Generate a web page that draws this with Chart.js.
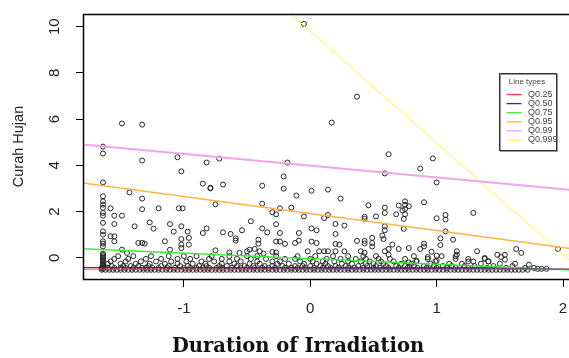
<!DOCTYPE html>
<html>
<head>
<meta charset="utf-8">
<script src="https://cdn.jsdelivr.net/npm/chart.js@4.4.0/dist/chart.umd.min.js"></script>
<style>
    html, body { margin: 0; padding: 0; background: #fff; overflow: hidden; }
    #wrap { width: 575px; height: 358px; }
</style>
</head>
<body>
<div id="wrap"><canvas id="chart" width="575" height="358"></canvas></div>
<script>
// axis ticks
const xTicks = [-1, 0, 1, 2];
const yTicks = [0, 2, 4, 6, 8, 10];
const xTitle = 'Duration of Irradiation';
const yTitle = 'Curah Hujan';

// quantile regression lines (value at left and right end of the x range)
const quantiles = ['Q0.25', 'Q0.50', 'Q0.75', 'Q0.95', 'Q0.99', 'Q0.999'];
const lineColors = ['#ff3b3b', '#2a2a9c', '#33f033', '#ffb347', '#f0a4f0', '#ffff40'];
const lineEndsX = [-1.8, 2.07];
const lineLeftY = [-0.49, -0.42, 0.39, 3.24, 4.90, 18.5];
const lineRightY = [-0.50, -0.49, -0.54, 0.39, 2.93, -0.21];

const upperPts = [
    [-0.05, 10.12], [0.37, 6.97], [0.17, 5.85], [-1.49, 5.81], [-1.33, 5.76],
    [-1.64, 4.81], [-1.64, 4.51], [-1.33, 4.21], [-1.05, 4.35], [-1.02, 3.74],
    [-0.82, 4.12], [-0.72, 4.29], [-0.18, 4.12], [-0.21, 3.52], [0.62, 4.48],
    [0.59, 3.65], [0.87, 3.86], [0.97, 4.30], [1.00, 3.26], [-1.64, 3.26],
    [-0.85, 3.21], [-0.79, 3.03], [-0.79, 3.00], [-0.69, 3.17]
];
const midPts = [
    [-1.43, 2.83], [-1.33, 2.56], [-1.33, 2.10],
    [-1.64, 2.66], [-1.64, 2.44], [-1.64, 2.30], [-1.64, 2.16], [-1.64, 1.94], [-1.64, 1.82],
    [-1.64, 1.51], [-1.64, 1.14], [-1.64, 1.00], [-1.64, 0.71], [-1.64, 0.61], [-1.64, 0.49],
    [-1.58, 2.14], [-1.55, 1.82], [-1.49, 1.82], [-1.55, 1.46], [-1.39, 1.36], [-1.27, 1.53],
    [-1.24, 1.26], [-1.20, 2.14], [-1.04, 2.14], [-1.01, 2.14], [-1.11, 1.46], [-1.08, 1.13],
    [-0.97, 1.13], [-1.02, 1.36], [-0.75, 2.31], [-0.85, 1.07], [-0.82, 1.27], [-0.69, 1.10],
    [-0.63, 1.03], [-0.59, 0.84], [-0.59, 0.74], [-0.54, 1.19], [-1.58, 0.93], [-1.55, 0.93],
    [-1.55, 0.71], [-1.49, 0.35], [-1.45, 0.21], [-1.36, 0.64], [-1.33, 0.64], [-1.31, 0.61],
    [-1.15, 0.71], [-1.02, 0.81], [-1.02, 0.57], [-1.02, 0.42], [-0.96, 0.86], [-0.96, 0.57],
    [-1.11, 0.35], [-0.75, 0.32], [-0.64, 0.23], [-0.56, 0.21], [-0.50, 0.28],
    [-0.38, 3.12], [-0.21, 2.99], [-0.11, 2.69], [0.01, 2.90], [0.14, 2.95], [0.24, 2.56],
    [-0.38, 2.34], [-0.24, 2.14], [-0.15, 2.17], [-0.30, 1.97], [-0.27, 1.88], [-0.05, 1.79],
    [-0.47, 1.58], [-0.27, 1.45], [-0.38, 1.27], [-0.34, 1.10], [-0.24, 1.07], [-0.09, 1.07],
    [0.01, 1.27], [0.05, 1.19], [0.11, 1.72], [0.14, 1.85], [0.20, 1.46], [0.27, 1.39],
    [0.20, 1.03], [0.46, 2.27], [0.43, 1.77], [0.43, 1.68], [0.52, 1.79], [0.59, 2.17],
    [0.59, 1.94], [0.68, 1.88], [0.70, 2.26], [0.73, 2.05], [0.75, 2.29], [0.75, 1.88],
    [0.74, 1.68], [0.74, 1.25], [0.59, 1.36], [0.59, 1.19], [-0.41, 0.61], [-0.41, 0.78],
    [-0.24, 0.70], [-0.27, 0.70], [-0.20, 0.60], [-0.12, 0.64], [-0.09, 0.74], [0.01, 0.70],
    [0.05, 0.64], [0.20, 0.60], [0.23, 0.57], [0.37, 0.73], [0.43, 0.73], [0.43, 0.62],
    [0.49, 0.86], [0.49, 0.64], [0.49, 0.49], [0.57, 0.96], [0.58, 0.81], [0.65, 0.57],
    [0.70, 0.38], [0.78, 0.42], [-0.48, 0.35], [-0.44, 0.38], [-0.40, 0.28], [-0.37, 0.18],
    [-0.30, 0.25], [-0.27, 0.23], [-0.02, 0.28], [0.07, 0.28], [0.11, 0.28], [0.14, 0.28],
    [0.20, 0.28], [0.27, 0.28], [0.40, 0.28], [0.43, 0.21], [0.59, 0.28], [0.62, 0.38],
    [0.62, 0.13], [0.90, 2.40], [0.75, 2.44], [0.78, 2.23], [0.75, 2.11], [1.00, 1.71],
    [1.07, 1.85], [1.07, 1.65], [1.29, 1.94], [1.07, 1.14], [1.03, 0.84], [1.13, 0.78],
    [1.03, 0.55], [0.90, 0.61], [0.90, 0.49], [0.87, 0.38], [0.96, 0.26], [1.00, 0.09],
    [0.93, 0.03], [1.00, -0.13], [1.16, 0.28], [1.16, 0.13], [1.15, 0.06], [1.32, 0.28],
    [1.25, -0.05], [1.29, -0.16], [1.38, -0.01], [1.41, -0.16], [1.48, 0.13], [1.54, 0.13],
    [1.54, -0.08], [1.51, 0.03], [1.63, 0.38], [1.67, 0.21], [1.96, 0.38], [0.84, -0.13],
    [0.78, -0.20], [1.73, -0.30], [1.77, -0.44], [1.80, -0.48], [1.83, -0.48], [1.87, -0.48]
];
// dense column on the far left
const leftColX = -1.64;
const leftColY = [0.18, 0.12, 0.06, 0.0, -0.06, -0.12, -0.18, -0.24, -0.30, -0.36, -0.42, -0.48];

// dense low rows (many repeated small values)
const rowY = [-0.52, -0.44, -0.36, -0.26, -0.16, -0.05, 0.07];
const row0X = [-1.65, -1.62, -1.59, -1.56, -1.53, -1.50, -1.47, -1.44, -1.41, -1.38, -1.35, -1.32,
    -1.29, -1.26, -1.23, -1.20, -1.17, -1.14, -1.11, -1.08, -1.05, -1.02, -0.99, -0.96, -0.93,
    -0.90, -0.87, -0.84, -0.81, -0.78, -0.75, -0.72, -0.69, -0.66, -0.63, -0.60, -0.57, -0.54,
    -0.51, -0.48, -0.45, -0.42, -0.39, -0.36, -0.33, -0.30, -0.27, -0.24, -0.21, -0.18, -0.15,
    -0.12, -0.09, -0.06, -0.03, 0.00, 0.03, 0.06, 0.09, 0.12, 0.15, 0.18, 0.21, 0.24, 0.27, 0.30,
    0.33, 0.36, 0.39, 0.42, 0.45, 0.48, 0.51, 0.54, 0.57, 0.60, 0.63, 0.66, 0.69, 0.72, 0.75,
    0.78, 0.81, 0.84, 0.87, 0.90, 0.93, 0.96, 0.99, 1.02, 1.05, 1.08, 1.11, 1.14, 1.17, 1.20,
    1.23, 1.26, 1.29, 1.32, 1.35, 1.38, 1.41, 1.44, 1.47, 1.50, 1.53, 1.56, 1.59, 1.62, 1.65,
    1.68, 1.72];
const row1X = [-1.65, -1.60, -1.55, -1.50, -1.46, -1.40, -1.33, -1.30, -1.25, -1.20, -1.13, -1.07,
    -1.00, -0.95, -0.90, -0.85, -0.80, -0.74, -0.70, -0.62, -0.55, -0.50, -0.44, -0.38, -0.33,
    -0.28, -0.20, -0.15, -0.10, -0.04, 0.03, 0.10, 0.16, 0.22, 0.30, 0.35, 0.42, 0.50, 0.55, 0.62,
    0.70, 0.77, 0.85, 0.92, 1.00, 1.08, 1.15, 1.25, 1.40, 1.55, 1.70];
const row2X = [-1.64, -1.57, -1.48, -1.42, -1.36, -1.28, -1.18, -1.12, -1.03, -0.97, -0.88, -0.82,
    -0.72, -0.66, -0.58, -0.52, -0.45, -0.36, -0.30, -0.22, -0.12, -0.06, 0.00, 0.08, 0.14, 0.20,
    0.28, 0.38, 0.45, 0.52, 0.60, 0.68, 0.75, 0.82, 0.90, 0.98, 1.05, 1.12, 1.22, 1.30, 1.45, 1.60];
const row3X = [-1.60, -1.50, -1.38, -1.27, -1.15, -1.05, -0.93, -0.83, -0.70, -0.60, -0.48, -0.40,
    -0.26, -0.17, -0.05, 0.05, 0.12, 0.25, 0.33, 0.44, 0.50, 0.58, 0.72, 0.80, 0.95, 1.10, 1.20,
    1.35, 1.50, 1.62];
const row4X = [-1.58, -1.46, -1.34, -1.22, -1.10, -0.98, -0.86, -0.76, -0.64, -0.55, -0.42, -0.30,
    -0.24, -0.08, 0.02, 0.10, 0.19, 0.30, 0.40, 0.47, 0.56, 0.66, 0.84, 0.99, 1.25, 1.41];
const row5X = [-1.55, -1.44, -1.30, -1.18, -1.05, -0.95, -0.80, -0.70, -0.58, -0.47, -0.35, -0.20,
    -0.12, 0.00, 0.13, 0.24, 0.36, 0.44, 0.54, 0.63, 0.75, 0.93, 1.15, 1.38];
const row6X = [-1.52, -1.40, -1.26, -1.12, -1.00, -0.90, -0.78, -0.64, -0.50, -0.42, -0.27, -0.10,
    0.04, 0.18, 0.30, 0.42, 0.52, 0.82, 1.04];

const rowsX = [row0X, row1X, row2X, row3X, row4X, row5X, row6X];

const points = [];
upperPts.concat(midPts).forEach(p => points.push({ x: p[0], y: p[1] }));
leftColY.forEach(y => points.push({ x: leftColX, y: y }));
rowsX.forEach((xs, i) => xs.forEach(x => points.push({ x: x, y: rowY[i] })));

const lineWidths = [1, 1, 1.3, 1.5, 2, 1];
const lineDatasets = quantiles.map((q, i) => ({
    type: 'line',
    label: q,
    data: [{ x: lineEndsX[0], y: lineLeftY[i] }, { x: lineEndsX[1], y: lineRightY[i] }],
    borderColor: lineColors[i],
    borderWidth: lineWidths[i],
    pointRadius: 0,
    fill: false,
    order: 0
}));

// box around the plotting region + bold x title under the axis
const framePlugin = {
    id: 'frame',
    afterDatasetsDraw(chart) {
        const { ctx, chartArea: a } = chart;
        ctx.save();
        ctx.strokeStyle = '#000';
        ctx.lineWidth = 1.5;
        ctx.strokeRect(Math.round(a.left) + 0.5, Math.round(a.top) + 0.5,
            Math.round(a.right - a.left), Math.round(a.bottom - a.top));
        ctx.fillStyle = '#111';
        ctx.font = 'bold 19.5px "DejaVu Serif", serif';
        ctx.textAlign = 'center';
        ctx.textBaseline = 'middle';
        ctx.fillText(xTitle, 298, 347);
        ctx.restore();
    }
};

// R-style legend box in the top right
const legendPlugin = {
    id: 'rLegend',
    afterDraw(chart) {
        const ctx = chart.ctx;
        const bx = 499.5, by = 73.5, bw = 57, bh = 77;
        ctx.save();
        ctx.fillStyle = '#fff';
        ctx.fillRect(bx, by, bw, bh);
        ctx.strokeStyle = '#999';
        ctx.lineWidth = 1;
        ctx.strokeRect(bx + 1, by + 1, bw, bh);
        ctx.strokeStyle = '#333';
        ctx.strokeRect(bx, by, bw, bh);

        ctx.fillStyle = '#444';
        ctx.textBaseline = 'middle';
        ctx.textAlign = 'center';
        ctx.font = '8px "Liberation Sans", Arial, sans-serif';
        ctx.fillText('Line types', bx + 27.5, by + 8);

        ctx.textAlign = 'left';
        ctx.font = '9px "Liberation Sans", Arial, sans-serif';
        quantiles.forEach((q, i) => {
            const y = by + 21 + i * 9.1;
            ctx.strokeStyle = lineColors[i];
            ctx.lineWidth = 1.3;
            ctx.beginPath();
            ctx.moveTo(bx + 7, y);
            ctx.lineTo(bx + 22, y);
            ctx.stroke();
            ctx.fillText(q, bx + 28.5, y);
        });
        ctx.restore();
    }
};

new Chart(document.getElementById('chart'), {
    data: {
        datasets: lineDatasets.concat([{
            type: 'scatter',
            label: yTitle,
            data: points,
            pointRadius: 2.5,
            pointBorderWidth: 1,
            pointBorderColor: '#262626',
            pointBackgroundColor: 'rgba(0,0,0,0)',
            order: 1
        }])
    },
    options: {
        responsive: false,
        animation: false,
        layout: { autoPadding: false, padding: { left: 0, top: 14, right: 3, bottom: 0 } },
        plugins: {
            legend: { display: false },
            tooltip: { enabled: false }
        },
        scales: {
            x: {
                type: 'linear',
                min: -1.798,
                max: 2.071,
                afterBuildTicks: s => { s.ticks = xTicks.map(v => ({ value: v })); },
                afterFit: s => { s.height = 79; s.paddingLeft = 0; s.paddingRight = 0; },
                border: { display: false },
                grid: { display: true, drawOnChartArea: false, drawTicks: true, tickLength: 8, color: '#000' },
                ticks: {
                    padding: 13,
                    color: '#222',
                    font: { family: '"Liberation Sans", Arial, sans-serif', size: 15 },
                    maxRotation: 0
                },
                title: { display: false }
            },
            y: {
                type: 'linear',
                min: -0.92,
                max: 10.55,
                afterBuildTicks: s => { s.ticks = yTicks.map(v => ({ value: v })); },
                afterFit: s => { s.width = 83; s.paddingTop = 0; s.paddingBottom = 0; },
                border: { display: false },
                grid: { display: true, drawOnChartArea: false, drawTicks: true, tickLength: 7, color: '#000' },
                ticks: {
                    minRotation: 90,
                    maxRotation: 90,
                    crossAlign: 'center',
                    padding: 13,
                    color: '#222',
                    font: { family: '"Liberation Sans", Arial, sans-serif', size: 15 }
                },
                title: {
                    display: true,
                    text: yTitle,
                    color: '#222',
                    font: { family: '"Liberation Sans", Arial, sans-serif', size: 14.5 },
                    padding: { top: 10, bottom: 0 }
                }
            }
        }
    },
    plugins: [framePlugin, legendPlugin]
});
</script>
</body>
</html>
